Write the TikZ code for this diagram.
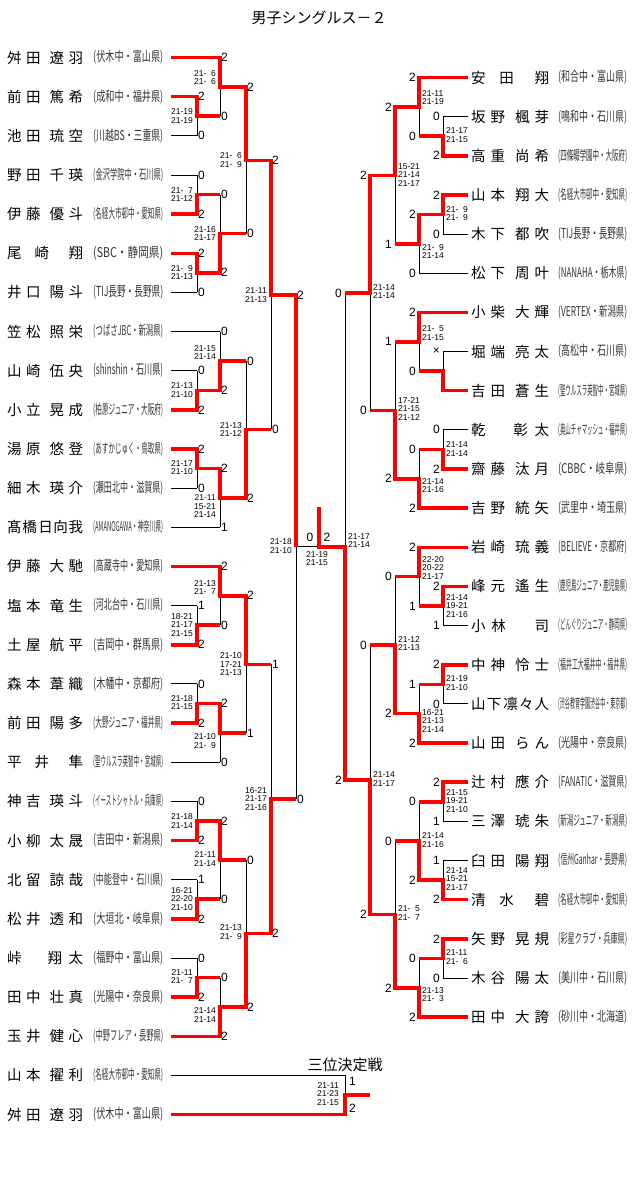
\documentclass[tikz,border=0pt]{standalone}
\usepackage{fontspec}
\usepackage{graphicx}
\setmainfont{Noto Sans CJK JP}
\newfontfamily\numfont{Liberation Sans}
\newcommand\dg{\phantom{0}}
\newcommand\nameAB[4]{#1\hfil#2\hfil\hfil#3\hfil#4}
\newcommand\nameAA[3]{#1\hfil\hfil#2\hfil\hfil\hfil#3}
\newcommand\nameBA[3]{#1\hfil\hfil\hfil\hfil#2\hfil#3}
\begin{document}
\begin{tikzpicture}[x=1pt, y=-1pt,
    nm/.style={anchor=west, inner sep=0pt, font=\fontsize{14.5}{14.5}\selectfont},
    aff/.style={anchor=west, inner sep=0pt, text=black!80, font=\fontsize{10}{10}\selectfont},
    sc/.style={inner sep=0pt, font=\numfont\fontsize{12}{12}\selectfont},
    gs/.style={inner sep=0pt, font=\numfont\fontsize{8.5}{8.5}\selectfont},
    lose/.style={black, line width=0.9pt},
    win/.style={red, line width=3.5pt}]
    \useasboundingbox (0,0) rectangle (640,1197);
    \node[font=\fontsize{15}{15}\selectfont] (title) at (319,18) {男子シングルス－２};

    \foreach \i/\n/\a in {
        1/{\nameAB{舛}{田}{遼}{羽}}/{(伏木中・富山県)},
        2/{\nameAB{前}{田}{篤}{希}}/{(成和中・福井県)},
        3/{\nameAB{池}{田}{琉}{空}}/{(川越BS・三重県)},
        4/{\nameAB{野}{田}{千}{瑛}}/{(金沢学院中・石川県)},
        5/{\nameAB{伊}{藤}{優}{斗}}/{(名経大市邨中・愛知県)},
        6/{\nameAA{尾}{崎}{翔}}/{(SBC・静岡県)},
        7/{\nameAB{井}{口}{陽}{斗}}/{(TIJ長野・長野県)},
        8/{\nameAB{笠}{松}{照}{栄}}/{(つばさJBC・新潟県)},
        9/{\nameAB{山}{崎}{伍}{央}}/{(shinshin・石川県)},
        10/{\nameAB{小}{立}{晃}{成}}/{(柏原ジュニア・大阪府)},
        11/{\nameAB{湯}{原}{悠}{登}}/{(あすかじゅく・鳥取県)},
        12/{\nameAB{細}{木}{瑛}{介}}/{(瀬田北中・滋賀県)},
        13/{髙\hfil 橋\hfil\hfil 日\hfil 向\hfil 我}/{(AMANOGAWA・神奈川県)},
        14/{\nameAB{伊}{藤}{大}{馳}}/{(高蔵寺中・愛知県)},
        15/{\nameAB{塩}{本}{竜}{生}}/{(河北台中・石川県)},
        16/{\nameAB{土}{屋}{航}{平}}/{(吉岡中・群馬県)},
        17/{\nameAB{森}{本}{葦}{織}}/{(木幡中・京都府)},
        18/{\nameAB{前}{田}{陽}{多}}/{(大野ジュニア・福井県)},
        19/{\nameAA{平}{井}{隼}}/{(聖ウルスラ英智中・宮城県)},
        20/{\nameAB{神}{吉}{瑛}{斗}}/{(イーストシャトル・兵庫県)},
        21/{\nameAB{小}{柳}{太}{晟}}/{(吉田中・新潟県)},
        22/{\nameAB{北}{留}{諒}{哉}}/{(中能登中・石川県)},
        23/{\nameAB{松}{井}{透}{和}}/{(大垣北・岐阜県)},
        24/{\nameBA{峠}{翔}{太}}/{(福野中・富山県)},
        25/{\nameAB{田}{中}{壮}{真}}/{(光陽中・奈良県)},
        26/{\nameAB{玉}{井}{健}{心}}/{(中野フレア・長野県)},
        27/{\nameAB{山}{本}{擢}{利}}/{(名経大市邨中・愛知県)},
        28/{\nameAB{舛}{田}{遼}{羽}}/{(伏木中・富山県)}}{
        \pgfmathsetmacro\yy{57.5+39.15*(\i-1)}
        \node[nm] (L\i) at (7,\yy) {\makebox[76pt][s]{\n}};
        \node[aff] (LA\i) at (93,\yy) {\resizebox*{70pt}{14pt}{\a}};
    }
    \foreach \i/\n/\a in {
        1/{\nameAA{安}{田}{翔}}/{(和合中・富山県)},
        2/{\nameAB{坂}{野}{楓}{芽}}/{(鳴和中・石川県)},
        3/{\nameAB{高}{重}{尚}{希}}/{(四條畷学園中・大阪府)},
        4/{\nameAB{山}{本}{翔}{大}}/{(名経大市邨中・愛知県)},
        5/{\nameAB{木}{下}{都}{吹}}/{(TIJ長野・長野県)},
        6/{\nameAB{松}{下}{周}{叶}}/{(NANAHA・栃木県)},
        7/{\nameAB{小}{柴}{大}{輝}}/{(VERTEX・新潟県)},
        8/{\nameAB{堀}{端}{亮}{太}}/{(高松中・石川県)},
        9/{\nameAB{吉}{田}{蒼}{生}}/{(聖ウルスラ英智中・宮城県)},
        10/{\nameBA{乾}{彰}{太}}/{(奥山チャマッシュ・福井県)},
        11/{\nameAB{齋}{藤}{汰}{月}}/{(CBBC・岐阜県)},
        12/{\nameAB{吉}{野}{統}{矢}}/{(武里中・埼玉県)},
        13/{\nameAB{岩}{崎}{琉}{義}}/{(BELIEVE・京都府)},
        14/{\nameAB{峰}{元}{遙}{生}}/{(鹿児島ジュニア・鹿児島県)},
        15/{小\hfil 林\hfil\hfil\hfil\hfil\hfil 司}/{(どんぐりジュニア・静岡県)},
        16/{\nameAB{中}{神}{怜}{士}}/{(福井工大福井中・福井県)},
        17/{山\hfil 下\hfil\hfil 凛\hfil 々\hfil 人}/{(渋谷教育学園渋谷中・東京都)},
        18/{\nameAB{山}{田}{ら}{ん}}/{(光陽中・奈良県)},
        19/{\nameAB{辻}{村}{應}{介}}/{(FANATIC・滋賀県)},
        20/{\nameAB{三}{澤}{琥}{朱}}/{(新潟ジュニア・新潟県)},
        21/{\nameAB{臼}{田}{陽}{翔}}/{(信州Ganhar・長野県)},
        22/{\nameAA{清}{水}{碧}}/{(名経大市邨中・愛知県)},
        23/{\nameAB{矢}{野}{晃}{規}}/{(彩星クラブ・兵庫県)},
        24/{\nameAB{木}{谷}{陽}{太}}/{(美川中・石川県)},
        25/{\nameAB{田}{中}{大}{誇}}/{(砂川中・北海道)}}{
        \pgfmathsetmacro\yy{77.5+39.15*(\i-1)}
        \node[nm] (R\i) at (471,\yy) {\makebox[78pt][s]{\n}};
        \node[aff] (RA\i) at (558,\yy) {\resizebox*{69pt}{14pt}{\a}};
    }

    \foreach \i in {2,3,4,5,6,7,9,10,11,12,15,16,17,18,20,21,22,23,24,25}
        \draw[lose] (171,{57.5+39.15*(\i-1)}) -- (197,{57.5+39.15*(\i-1)});
    \foreach \i in {1,8,13,14,19,26}
        \draw[lose] (171,{57.5+39.15*(\i-1)}) -- (220,{57.5+39.15*(\i-1)});
    \foreach \i in {2,3,4,5,8,9,10,11,14,15,16,17,19,20,21,22,23,24}
        \draw[lose] (468,{77.5+39.15*(\i-1)}) -- (443,{77.5+39.15*(\i-1)});
    \foreach \i in {1,6,7,12,13,18,25}
        \draw[lose] (468,{77.5+39.15*(\i-1)}) -- (419,{77.5+39.15*(\i-1)});

    \foreach \x/\xn/\yt/\yb in {
        197/220/96.65/135.8, 197/220/174.95/214.1, 197/220/253.25/292.4, 197/220/370.7/409.85,
        197/220/449/488.15, 197/220/605.6/644.75, 197/220/683.9/723.05, 197/220/801.35/840.5,
        197/220/879.65/918.8, 197/220/957.95/997.1,
        220/246/57.5/116.2, 220/246/194.5/272.8, 220/246/331.55/390.3, 220/246/468.6/527.3,
        220/246/566.45/625.2, 220/246/703.5/762.2, 220/246/820.9/899.2, 220/246/977.5/1036.25,
        246/271/86.9/233.7, 246/271/360.9/498, 246/271/595.8/732.9, 246/271/860.1/1006.9,
        271/296/160.3/429.4, 271/296/664.3/933.5,
        443/419/116.65/155.8, 443/419/194.95/234.1, 443/419/351.55/390.7, 443/419/429.85/469,
        443/419/586.45/625.6, 443/419/664.75/703.9, 443/419/782.2/821.35, 443/419/860.5/899.65,
        443/419/938.8/977.95,
        419/395/77.5/136.2, 419/395/214.5/273.25, 419/395/312.4/371.1, 419/395/449.4/508.15,
        419/395/547.3/606, 419/395/684.3/743.05, 419/395/801.8/880.1, 419/395/958.4/1017.1,
        395/370/106.9/243.9, 395/370/341.8/478.8, 395/370/576.7/713.7, 395/370/841/987.8,
        370/345/175.4/410.3, 370/345/645.2/914.4}
        \draw[lose] (\x,\yt) -- (\x,\yb) (\x,{(\yt+\yb)/2}) -- (\xn,{(\yt+\yb)/2});
    \draw[lose] (296,294.9) -- (296,798.9) (296,546.9) -- (345,546.9) (319,546.9) -- (319,507) (345,292.9) -- (345,779.8);
    \draw[lose] (171,1075.4) -- (345,1075.4) -- (345,1114.55) (345,1095) -- (370,1095);

    \draw[win] (171,57.5) -- (220,57.5) -- (220,86.9) -- (246,86.9) -- (246,160.3) -- (271,160.3) -- (271,294.9) -- (296,294.9) -- (296,546.9);
    \draw[win] (171,96.65) -- (197,96.65) -- (197,116.2) -- (220,116.2);
    \draw[win] (171,214.1) -- (197,214.1) -- (197,194.5) -- (220,194.5);
    \draw[win] (171,253.25) -- (197,253.25) -- (197,272.8) -- (220,272.8) -- (220,233.7) -- (246,233.7);
    \draw[win] (171,409.85) -- (197,409.85) -- (197,390.3) -- (220,390.3) -- (220,360.9) -- (246,360.9);
    \draw[win] (171,449) -- (197,449) -- (197,468.6) -- (220,468.6) -- (220,498) -- (246,498) -- (246,429.4) -- (271,429.4);
    \draw[win] (171,566.45) -- (220,566.45) -- (220,595.8) -- (246,595.8) -- (246,664.3) -- (271,664.3);
    \draw[win] (171,644.75) -- (197,644.75) -- (197,625.2) -- (220,625.2);
    \draw[win] (171,723.05) -- (197,723.05) -- (197,703.5) -- (220,703.5) -- (220,732.9) -- (246,732.9);
    \draw[win] (171,840.5) -- (197,840.5) -- (197,820.9) -- (220,820.9) -- (220,860.1) -- (246,860.1);
    \draw[win] (171,918.8) -- (197,918.8) -- (197,899.2) -- (220,899.2);
    \draw[win] (171,997.1) -- (197,997.1) -- (197,977.5) -- (220,977.5);
    \draw[win] (171,1036.25) -- (220,1036.25) -- (220,1006.9) -- (246,1006.9) -- (246,933.5) -- (271,933.5) -- (271,798.9) -- (296,798.9);
    \draw[win] (171,1114.55) -- (345,1114.55) -- (345,1095) -- (370,1095);
    \draw[win] (468,77.5) -- (419,77.5) -- (419,106.9) -- (395,106.9) -- (395,175.4) -- (370,175.4) -- (370,292.9) -- (345,292.9);
    \draw[win] (468,155.8) -- (443,155.8) -- (443,136.2) -- (419,136.2);
    \draw[win] (468,194.95) -- (443,194.95) -- (443,214.5) -- (419,214.5) -- (419,243.9) -- (395,243.9);
    \draw[win] (468,312.4) -- (419,312.4) -- (419,341.8) -- (395,341.8);
    \draw[win] (468,390.7) -- (443,390.7) -- (443,371.1) -- (419,371.1);
    \draw[win] (468,469) -- (443,469) -- (443,449.4) -- (419,449.4);
    \draw[win] (468,508.15) -- (419,508.15) -- (419,478.8) -- (395,478.8) -- (395,410.3) -- (370,410.3);
    \draw[win] (468,547.3) -- (419,547.3) -- (419,576.7) -- (395,576.7);
    \draw[win] (468,586.45) -- (443,586.45) -- (443,606) -- (419,606);
    \draw[win] (468,664.75) -- (443,664.75) -- (443,684.3) -- (419,684.3);
    \draw[win] (468,743.05) -- (419,743.05) -- (419,713.7) -- (395,713.7) -- (395,645.2) -- (370,645.2);
    \draw[win] (468,782.2) -- (443,782.2) -- (443,801.8) -- (419,801.8);
    \draw[win] (468,899.65) -- (443,899.65) -- (443,880.1) -- (419,880.1) -- (419,841) -- (395,841);
    \draw[win] (468,938.8) -- (443,938.8) -- (443,958.4) -- (419,958.4);
    \draw[win] (468,1017.1) -- (419,1017.1) -- (419,987.8) -- (395,987.8) -- (395,914.4) -- (370,914.4) -- (370,779.8) -- (345,779.8) -- (345,546.9) -- (319,546.9) -- (319,507);

    \foreach \x/\y/\s [count=\k] in {
        197/96.65/2, 197/135.8/0, 197/174.95/0, 197/214.1/2, 197/253.25/2, 197/292.4/0,
        197/370.7/0, 197/409.85/2, 197/449/2, 197/488.15/0, 197/605.6/1, 197/644.75/2,
        197/683.9/0, 197/723.05/2, 197/801.35/0, 197/840.5/2, 197/879.65/1, 197/918.8/2,
        197/957.95/0, 197/997.1/2,
        220/57.5/2, 220/116.2/0, 220/194.5/0, 220/272.8/2, 220/331.55/0, 220/390.3/2,
        220/468.6/2, 220/527.3/1, 220/566.45/2, 220/625.2/0, 220/703.5/2, 220/762.2/0,
        220/820.9/2, 220/899.2/0, 220/977.5/0, 220/1036.25/2,
        246/86.9/2, 246/233.7/0, 246/360.9/0, 246/498/2, 246/595.8/2, 246/732.9/1,
        246/860.1/0, 246/1006.9/2,
        271/160.3/2, 271/429.4/0, 271/664.3/1, 271/933.5/2,
        296/294.9/2, 296/798.9/0}
        \node[sc, anchor=west] (sl\k) at (\x+1,\y) {\s};
    \foreach \x/\y/\s [count=\k] in {
        443/116.65/0, 443/155.8/2, 443/194.95/2, 443/234.1/0, 443/351.55/×, 443/429.85/0,
        443/469/2, 443/586.45/2, 443/625.6/1, 443/664.75/2, 443/703.9/0, 443/782.2/2,
        443/821.35/1, 443/860.5/1, 443/899.65/2, 443/938.8/2, 443/977.95/0,
        419/77.5/2, 419/136.2/0, 419/214.5/2, 419/273.25/0, 419/312.4/2, 419/371.1/0,
        419/449.4/0, 419/508.15/2, 419/547.3/2, 419/606/1, 419/684.3/1, 419/743.05/2,
        419/801.8/0, 419/880.1/2, 419/958.4/0, 419/1017.1/2,
        395/106.9/2, 395/243.9/1, 395/341.8/1, 395/478.8/2, 395/576.7/0, 395/713.7/2,
        395/841/0, 395/987.8/2,
        370/175.4/2, 370/410.3/0, 370/645.2/0, 370/914.4/2,
        345/292.9/0, 345/779.8/2}
        \node[sc, anchor=east] (sr\k) at (\x-3,\y) {\s};

    \foreach \x/\y/\t [count=\k] in {
        197/116.2/{21-19\\21-19}, 197/194.5/{21-\dg7\\21-12}, 197/272.8/{21-\dg9\\21-13},
        197/390.3/{21-13\\21-10}, 197/467.5/{21-17\\21-10}, 197/625/{18-21\\21-17\\21-15},
        197/702.5/{21-18\\21-15}, 197/820.9/{21-18\\21-14}, 197/898.6/{16-21\\22-20\\21-10},
        197/976.7/{21-11\\21-\dg7},
        220/77.5/{21-\dg6\\21-\dg6}, 220/233.5/{21-16\\21-17}, 220/352.5/{21-15\\21-14},
        220/506.5/{21-11\\15-21\\21-14}, 220/587.5/{21-13\\21-\dg7}, 220/741/{21-10\\21-\dg9},
        220/859/{21-11\\21-14}, 220/1015/{21-14\\21-14},
        246/160.3/{21-\dg6\\21-\dg9}, 246/429.4/{21-13\\21-12}, 246/664.3/{21-10\\17-21\\21-13},
        246/932.3/{21-13\\21-\dg9},
        271/295/{21-11\\21-13}, 271/798.8/{16-21\\21-17\\21-16},
        296/546.3/{21-18\\21-10}}
        \node[gs, anchor=east, align=right] (gl\k) at (\x-4,\y) {\t};
    \foreach \x/\y/\t [count=\k] in {
        443/135.3/{21-17\\21-15}, 443/213.5/{21-\dg9\\21-\dg9}, 443/448.8/{21-14\\21-14},
        443/605.7/{21-14\\19-21\\21-16}, 443/683/{21-19\\21-10}, 443/801/{21-15\\19-21\\21-10},
        443/879/{21-14\\15-21\\21-17}, 443/957/{21-11\\21-\dg6},
        419/97.5/{21-11\\21-19}, 419/251.3/{21-\dg9\\21-14}, 419/333.3/{21-\dg5\\21-15},
        419/485.8/{21-14\\21-16}, 419/567.6/{22-20\\20-22\\21-17}, 419/720.9/{16-21\\21-13\\21-14},
        419/840/{21-14\\21-16}, 419/994.8/{21-13\\21-\dg3},
        395/174.6/{15-21\\21-14\\21-17}, 395/408.9/{17-21\\21-15\\21-12}, 395/643.8/{21-12\\21-13},
        395/913/{21-\dg5\\21-\dg7},
        370/291.5/{21-14\\21-14}, 370/779/{21-14\\21-17},
        345/540.5/{21-17\\21-14}}
        \node[gs, anchor=west, align=left] (gr\k) at (\x+3,\y) {\t};

    \node[gs, align=center] (gfin) at (317,558.7) {21-19\\21-15};
    \node[sc] (sfl) at (310,537) {0};
    \node[sc] (sfr) at (327,537) {2};
    \node[font=\fontsize{15}{15}\selectfont] (third) at (345,1065) {三位決定戦};
    \node[gs, anchor=east, align=right] (g3) at (339,1094) {21-11\\21-23\\21-15};
    \node[sc, anchor=west] (s3a) at (349,1081.5) {1};
    \node[sc, anchor=west] (s3b) at (349,1108) {2};
\end{tikzpicture}
\end{document}
